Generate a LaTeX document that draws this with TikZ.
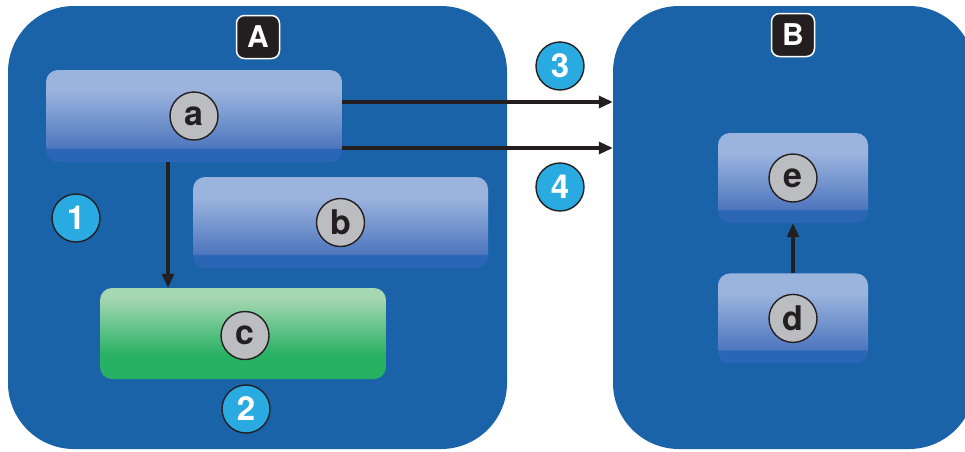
\documentclass[tikz,border=0pt]{standalone}
\usepackage{fontspec}
\setmainfont{TeX Gyre Heros}
\usetikzlibrary{positioning, arrows.meta, calc}
\definecolor{zoneblue}{HTML}{1B63A8}
\definecolor{ptop}{HTML}{9BB4DE}
\definecolor{plow}{HTML}{4F77BE}
\definecolor{pbot}{HTML}{2A65B6}
\definecolor{gtop}{HTML}{A6D7B3}
\definecolor{gbot}{HTML}{27B163}
\definecolor{tagcyan}{HTML}{29ABE2}
\definecolor{inkdark}{HTML}{231F20}
\definecolor{chipgrey}{HTML}{BCBDC0}
\pgfdeclareverticalshading{paneblue}{100bp}{color(0bp)=(pbot); color(25bp)=(pbot); color(32bp)=(pbot); color(33bp)=(plow); color(64bp)=(ptop); color(75bp)=(ptop); color(100bp)=(ptop)}
\pgfdeclareverticalshading{panegreen}{100bp}{color(0bp)=(gbot); color(25bp)=(gbot); color(38bp)=(gbot); color(70bp)=(gtop); color(75bp)=(gtop); color(100bp)=(gtop)}
\tikzset{zone/.style={fill=zoneblue, rounded corners=66pt, minimum height=443pt, inner sep=0pt},
	panel/.style={rounded corners=12pt, shading=paneblue, inner sep=0pt, minimum height=91pt},
	chip/.style={circle, draw=inkdark, line width=1.4pt, fill=chipgrey, text=inkdark, minimum size=48pt, inner sep=0pt, font=\fontsize{34}{36}\selectfont\bfseries},
	badge/.style={circle, draw=inkdark, line width=1.4pt, fill=tagcyan, text=white, minimum size=48pt, inner sep=0pt, font=\fontsize{33}{35}\selectfont\bfseries},
	zonetag/.style={rounded corners=8pt, fill=inkdark, draw=white, line width=1.5pt, text=white, minimum size=43pt, inner sep=0pt, font=\fontsize{30}{32}\selectfont\bfseries},
	arr/.style={-{Triangle[length=14pt,width=12pt]}, line width=3.2pt, draw=inkdark},}

\begin{document}
\begin{tikzpicture}[x=1pt, y=-1pt]
	\clip (0,0) rectangle (965,451);
	% Zones
	\node[zone, minimum width=499pt] (A) at (257.5,227.5) {};
	\node[zone, minimum width=362pt] (B) at (794,227.5) {};
	\node[zonetag] (tA) at (258,37) {A};
	\node[zonetag] (tB) at (793,35) {B};
	% Panels in A
	\node[panel, minimum width=296pt, minimum height=92pt] (a) at (194,116) {};
	\node[panel, minimum width=295pt] (b) at (340.5,222.5) {};
	\node[panel, shading=panegreen, minimum width=286pt] (c) at (243,333.5) {};
	% Panels in B
	\node[panel, minimum width=150pt, minimum height=90pt] (e) at (793,178) {};
	\node[panel, minimum width=150pt, minimum height=90pt] [below = 50pt of e] (d) {};
	% Chips
	\node[chip] (ca) at (a) {a};
	\node[chip] (cb) at (b) {b};
	\node[chip] (cc) at ([xshift=2pt, yshift=-2pt]c) {c};
	\node[chip] (ce) at (e) {e};
	\node[chip] (cd) at (d) {d};
	% Steps
	\node[badge] (n1) at (76,218) {1};
	\node[badge] (n2) at (246,409) {2};
	\node[badge] (n3) at (560,66) {3};
	\node[badge] (n4) at (560,187) {4};
	% Arrows
	\draw[arr] ([xshift=-26pt]a.south) -- ([xshift=-26pt]a.south |- c.north);
	\draw[arr] ([yshift=14pt]a.east) -- ([yshift=14pt]a.east -| B.west);
	\draw[arr] ([yshift=-32pt]a.east) -- ([yshift=-32pt]a.east -| B.west);
	\draw[arr] (d.north) -- (e.south);
\end{tikzpicture}
\end{document}
